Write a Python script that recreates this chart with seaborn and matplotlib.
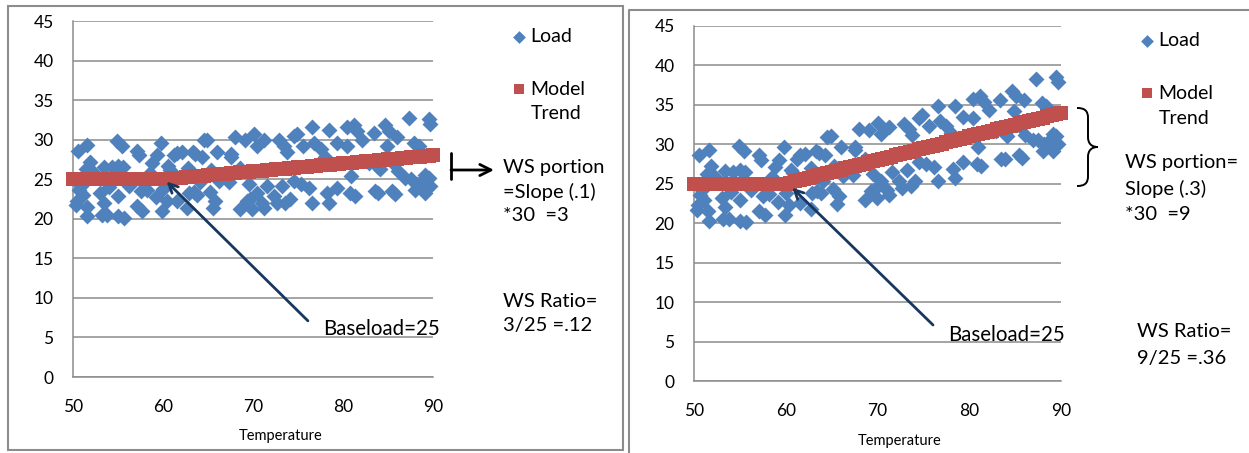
import numpy as np
import pandas as pd
import matplotlib
matplotlib.use("Agg")
import matplotlib.pyplot as plt
import seaborn as sns
from matplotlib.lines import Line2D
from matplotlib.patches import Rectangle, PathPatch
from matplotlib.path import Path

# ---------------- data ----------------
load_temp = [50.3, 50.4, 50.5, 50.7, 50.9, 51.1, 51.4, 51.5, 51.6, 51.6, 51.9, 52.3, 53.0, 53.2, 53.4,
             53.4, 53.8, 54.0, 54.3, 54.9, 55.0, 55.0, 55.0, 55.4, 55.6, 55.7, 56.2, 57.1, 57.1, 57.3,
             57.5, 57.7, 58.2, 58.5, 58.8, 59.2, 59.3, 59.8, 59.9, 60.0, 60.4, 60.6, 60.8, 61.2, 61.5,
             61.6, 62.1, 62.7, 62.8, 62.9, 63.3, 63.4, 63.6, 63.8, 64.1, 64.3, 64.5, 64.9, 65.2, 65.3,
             65.6, 65.8, 66.0, 66.2, 67.3, 67.5, 67.6, 68.0, 68.6, 68.6, 69.1, 69.3, 69.5, 69.7, 69.9,
             70.1, 70.4, 70.4, 71.0, 71.2, 71.2, 71.6, 72.3, 72.7, 72.9, 73.2, 73.4, 73.6, 73.8, 74.1,
             74.5, 74.5, 74.9, 75.3, 75.6, 76.2, 76.6, 76.6, 76.8, 77.5, 78.0, 78.2, 78.4, 78.4, 79.3,
             79.3, 80.4, 80.4, 80.8, 80.9, 81.2, 81.3, 81.6, 82.1, 82.9, 83.4, 83.5, 83.9, 83.9, 84.1,
             84.7, 84.9, 85.1, 85.4, 85.6, 85.8, 86.0, 86.1, 86.9, 87.3, 87.5, 87.9, 88.0, 88.2, 88.4,
             88.7, 89.1, 89.1, 89.5, 89.5, 89.7, 89.7]

load_left = [21.7, 22.3, 28.6, 23.6, 24.2, 23.0, 26.3, 21.5, 29.3, 20.3, 27.2, 25.8, 23.2, 20.5, 22.0,
             26.6, 20.5, 24.0, 26.5, 29.8, 26.7, 22.9, 20.3, 29.2, 26.5, 20.1, 24.2, 28.6, 21.6, 28.0,
             23.5, 21.0, 23.7, 25.8, 27.1, 22.7, 28.0, 29.6, 21.0, 23.8, 22.2, 26.7, 26.2, 28.0, 28.3,
             22.3, 28.4, 21.3, 26.4, 23.2, 28.4, 23.4, 28.2, 23.0, 24.6, 27.8, 30.0, 30.0, 23.4, 26.2,
             21.3, 22.3, 28.5, 24.8, 24.6, 28.2, 27.8, 30.4, 21.2, 26.4, 30.0, 22.2, 24.4, 22.5, 21.2,
             30.7, 29.2, 23.3, 22.0, 30.0, 21.4, 24.2, 22.9, 22.0, 30.0, 24.2, 29.2, 22.0, 28.4, 22.5,
             30.5, 24.8, 30.7, 24.4, 29.2, 23.9, 22.0, 31.6, 29.6, 28.8, 27.8, 23.3, 31.2, 22.0, 23.9,
             29.6, 31.6, 29.2, 23.3, 25.4, 31.9, 22.9, 31.1, 30.0, 27.1, 30.9, 23.5, 23.3, 26.6, 26.3,
             31.9, 29.2, 31.1, 23.5, 27.1, 23.1, 30.4, 26.0, 25.2, 32.8, 25.0, 29.6, 23.6, 24.4, 29.2,
             24.7, 23.3, 25.5, 32.6, 25.2, 32.0, 24.2]

load_right = [21.7, 22.3, 28.6, 23.6, 24.2, 23.0, 26.3, 21.5, 29.3, 20.3, 27.2, 25.8, 23.2, 20.5, 22.0,
              26.6, 20.5, 24.0, 26.5, 29.8, 26.7, 22.9, 20.3, 29.2, 26.5, 20.1, 24.2, 28.6, 21.6, 28.0,
              23.5, 21.0, 23.7, 25.8, 27.1, 22.7, 28.0, 29.6, 21.0, 23.8, 22.3, 26.8, 26.4, 28.2, 28.6,
              22.6, 28.8, 21.8, 27.0, 23.8, 29.1, 24.1, 28.9, 23.8, 25.4, 28.7, 30.9, 31.0, 24.4, 27.3,
              22.4, 23.5, 29.7, 26.0, 26.1, 29.7, 29.3, 32.0, 22.9, 28.1, 31.8, 24.1, 26.3, 24.4, 23.2,
              32.7, 31.3, 25.4, 24.2, 32.2, 23.6, 26.5, 25.4, 24.5, 32.6, 26.8, 31.9, 24.7, 31.2, 25.3,
              33.4, 27.7, 33.7, 27.5, 32.3, 27.1, 25.3, 34.9, 33.0, 32.3, 31.4, 26.9, 34.9, 25.7, 27.8,
              33.5, 35.7, 33.3, 27.5, 29.6, 36.1, 27.2, 35.4, 34.4, 31.7, 35.6, 28.2, 28.1, 31.4, 31.1,
              36.8, 34.2, 36.1, 28.6, 32.2, 28.3, 35.6, 31.2, 30.6, 38.3, 30.5, 35.2, 29.2, 30.0, 34.9,
              30.4, 29.1, 31.3, 38.5, 31.1, 37.9, 30.1]

model_temp = [50.0, 50.5, 51.0, 51.5, 52.0, 52.5, 53.0, 53.5, 54.0, 54.5, 55.0, 55.5, 56.0, 56.5,
              57.0, 57.5, 58.0, 58.5, 59.0, 59.5, 60.0, 60.5, 61.0, 61.5, 62.0, 62.5, 63.0, 63.5,
              64.0, 64.5, 65.0, 65.5, 66.0, 66.5, 67.0, 67.5, 68.0, 68.5, 69.0, 69.5, 70.0, 70.5,
              71.0, 71.5, 72.0, 72.5, 73.0, 73.5, 74.0, 74.5, 75.0, 75.5, 76.0, 76.5, 77.0, 77.5,
              78.0, 78.5, 79.0, 79.5, 80.0, 80.5, 81.0, 81.5, 82.0, 82.5, 83.0, 83.5, 84.0, 84.5,
              85.0, 85.5, 86.0, 86.5, 87.0, 87.5, 88.0, 88.5, 89.0, 89.5, 90.0]

model_left = [25.0, 25.0, 25.0, 25.0, 25.0, 25.0, 25.0, 25.0, 25.0, 25.0, 25.0, 25.0, 25.0, 25.0,
              25.0, 25.0, 25.0, 25.0, 25.0, 25.0, 25.0, 25.05, 25.1, 25.15, 25.2, 25.25, 25.3, 25.35,
              25.4, 25.45, 25.5, 25.55, 25.6, 25.65, 25.7, 25.75, 25.8, 25.85, 25.9, 25.95, 26.0, 26.05,
              26.1, 26.15, 26.2, 26.25, 26.3, 26.35, 26.4, 26.45, 26.5, 26.55, 26.6, 26.65, 26.7, 26.75,
              26.8, 26.85, 26.9, 26.95, 27.0, 27.05, 27.1, 27.15, 27.2, 27.25, 27.3, 27.35, 27.4, 27.45,
              27.5, 27.55, 27.6, 27.65, 27.7, 27.75, 27.8, 27.85, 27.9, 27.95, 28.0]

model_right = [25.0, 25.0, 25.0, 25.0, 25.0, 25.0, 25.0, 25.0, 25.0, 25.0, 25.0, 25.0, 25.0, 25.0,
               25.0, 25.0, 25.0, 25.0, 25.0, 25.0, 25.0, 25.15, 25.3, 25.45, 25.6, 25.75, 25.9, 26.05,
               26.2, 26.35, 26.5, 26.65, 26.8, 26.95, 27.1, 27.25, 27.4, 27.55, 27.7, 27.85, 28.0, 28.15,
               28.3, 28.45, 28.6, 28.75, 28.9, 29.05, 29.2, 29.35, 29.5, 29.65, 29.8, 29.95, 30.1, 30.25,
               30.4, 30.55, 30.7, 30.85, 31.0, 31.15, 31.3, 31.45, 31.6, 31.75, 31.9, 32.05, 32.2, 32.35,
               32.5, 32.65, 32.8, 32.95, 33.1, 33.25, 33.4, 33.55, 33.7, 33.85, 34.0]

x_ticks = [50, 60, 70, 80, 90]
y_ticks = [0, 5, 10, 15, 20, 25, 30, 35, 40, 45]
x_label = "Temperature"
series_names = ["Load", "Model\nTrend"]

# ---------------- style ----------------
sns.set_theme(style="white")
plt.rcParams["font.family"] = ["Lato", "DejaVu Sans"]

W, H = 1249, 453
fig = plt.figure(figsize=(W / 100, H / 100), dpi=100)

BLUE = "#4F81BD"
RED = "#C0504D"
GRID = "#8C8C8C"
NAVY = "#17375E"


def fx(px):
    return px / W


def fy(py):
    return 1 - py / H


def make_panel(rect, model_vals, load_vals, legend_xy, label_xy, lab_space, line_space):
    ax = fig.add_axes(rect)
    sns.scatterplot(x=load_temp, y=load_vals, marker="D", s=66, color=BLUE,
                    linewidth=0, ax=ax, label=series_names[0], clip_on=False, zorder=3)
    sns.scatterplot(x=model_temp, y=model_vals, marker="s", s=98, color=RED,
                    linewidth=0, ax=ax, label=series_names[1], clip_on=False, zorder=4)
    ax.set_xlim(50, 90)
    ax.set_ylim(0, 45)
    ax.set_xticks(x_ticks)
    ax.set_yticks(y_ticks)
    ax.yaxis.grid(True, color=GRID, linewidth=1.1)
    ax.xaxis.grid(False)
    for s in ["top", "right"]:
        ax.spines[s].set_visible(False)
    for s in ["left", "bottom"]:
        ax.spines[s].set_color(GRID)
        ax.spines[s].set_linewidth(1.1)
    ax.tick_params(axis="both", direction="out", length=4, width=1.1, color=GRID,
                   labelsize=12.5, labelcolor="black")
    ax.tick_params(axis="x", pad=12)
    ax.tick_params(axis="y", pad=10)
    ax.set_xlabel(x_label, fontsize=10.5, color="black")
    ax.set_ylabel("")
    ax.xaxis.set_label_coords(*label_xy)
    leg = ax.legend(loc="upper left", bbox_to_anchor=legend_xy, bbox_transform=fig.transFigure,
                    frameon=False, fontsize=14, handletextpad=0.2, handlelength=0.8,
                    labelspacing=lab_space, borderaxespad=0, borderpad=0, markerscale=0.8)
    for col in leg._legend_handle_box.get_children():
        for item in col.get_children():
            item.align = "top"
    for t in leg.get_texts():
        t.set_color("black")
        t.set_linespacing(line_space)
    return ax


axL = make_panel([fx(73), fy(377), fx(433) - fx(73), fy(21) - fy(377)],
                 model_left, load_left, (fx(511), fy(28)), (0.578, -0.145), 1.85, 1.5)
axR = make_panel([fx(694), fy(381), fx(1061) - fx(694), fy(26) - fy(381)],
                 model_right, load_right, (fx(1139), fy(32)), (0.559, -0.15), 1.85, 1.6)

# arrows to baseload
axL.annotate("", xy=(60.4, 24.7), xytext=(76.1, 7.1),
             arrowprops=dict(arrowstyle="->", color=NAVY, lw=2, mutation_scale=16, shrinkA=0, shrinkB=0),
             zorder=6)
axL.text(77.8, 6.1, "Baseload=25", fontsize=14.8, va="center", ha="left", color="black", zorder=6)
axR.annotate("", xy=(60.7, 24.5), xytext=(76.05, 7.1),
             arrowprops=dict(arrowstyle="->", color=NAVY, lw=2, mutation_scale=16, shrinkA=0, shrinkB=0),
             zorder=6)
axR.text(77.7, 5.8, "Baseload=25", fontsize=14.8, va="center", ha="left", color="black", zorder=6)

# annotation texts
fig.text(fx(503), fy(159), "WS portion\n=Slope (.1)\n*30  =3", fontsize=14.5, va="top", ha="left",
         linespacing=1.45, color="black")
fig.text(fx(503), fy(293), "WS Ratio=\n3/25 =.12", fontsize=14.5, va="top", ha="left",
         linespacing=1.5, color="black")
fig.text(fx(1125), fy(154), "WS portion=\nSlope (.3)\n*30  =9", fontsize=14.5, va="top", ha="left",
         linespacing=1.58, color="black")
fig.text(fx(1137), fy(323), "WS Ratio=\n9/25 =.36", fontsize=14.5, va="top", ha="left",
         linespacing=1.7, color="black")

# left bar-arrow symbol
fig.add_artist(Line2D([fx(451), fx(451)], [fy(153), fy(179)], color="black", lw=2, transform=fig.transFigure))
axL.annotate("", xy=(494, H - 170), xytext=(451, H - 170), xycoords="figure pixels",
             textcoords="figure pixels",
             arrowprops=dict(arrowstyle="->", color="black", lw=2, mutation_scale=20, shrinkA=0, shrinkB=0))

# right brace
bx = [(1077, 108), (1085, 108), (1088, 111), (1088, 118), (1088, 137), (1088, 143), (1091, 147),
      (1098, 147), (1091, 147), (1088, 151), (1088, 157), (1088, 176), (1088, 183), (1085, 186),
      (1077, 186)]
codes = [Path.MOVETO, Path.CURVE4, Path.CURVE4, Path.CURVE4, Path.LINETO, Path.CURVE4, Path.CURVE4,
         Path.CURVE4, Path.CURVE4, Path.CURVE4, Path.CURVE4, Path.LINETO, Path.CURVE4, Path.CURVE4,
         Path.CURVE4]
brace = Path([(fx(a), fy(b)) for a, b in bx], codes)
fig.add_artist(PathPatch(brace, fill=False, lw=1.4, edgecolor="black", transform=fig.transFigure))

# panel borders
fig.add_artist(Rectangle((fx(8), fy(450)), fx(623) - fx(8), fy(6) - fy(450), fill=False,
                         edgecolor="#8C8C8C", lw=1.5, transform=fig.transFigure))
fig.add_artist(Line2D([fx(629), fx(629), fx(1249)], [fy(453), fy(10), fy(10)], color="#8C8C8C",
                      lw=1.5, transform=fig.transFigure))

fig.savefig("out.png", dpi=100)
